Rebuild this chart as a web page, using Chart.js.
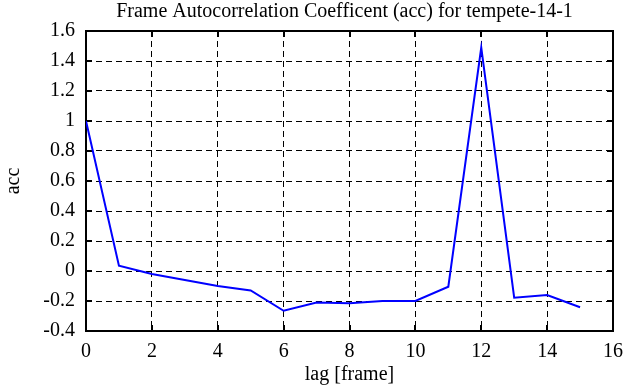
<!DOCTYPE html>
<html><head><meta charset="utf-8">
<script src="https://cdn.jsdelivr.net/npm/chart.js@4/dist/chart.umd.min.js"></script>
<style>html,body{margin:0;padding:0;background:#fff;}</style>
</head><body>
<canvas id="c" width="635" height="387"></canvas>
<script>
const chartTitle = 'Frame Autocorrelation Coefficent (acc) for tempete-14-1';
const xAxisTitle = 'lag [frame]';
const yAxisTitle = 'acc';
const lags = [0, 1, 2, 3, 4, 5, 6, 7, 8, 9, 10, 11, 12, 13, 14, 15];
const acc = [1.0, 0.035, -0.02, -0.06, -0.1, -0.13, -0.265, -0.21, -0.215, -0.2, -0.2, -0.105, 1.49, -0.178, -0.16, -0.242];
const xTicks = [0, 2, 4, 6, 8, 10, 12, 14, 16];
const xTickLabels = ['0', '2', '4', '6', '8', '10', '12', '14', '16'];
const yTicks = [-0.4, -0.2, 0, 0.2, 0.4, 0.6, 0.8, 1, 1.2, 1.4, 1.6];
const yTickLabels = ['-0.4', '-0.2', '0', '0.2', '0.4', '0.6', '0.8', '1', '1.2', '1.4', '1.6'];

const FONT = "'Liberation Serif', 'Times New Roman', serif";
const TICK_LEN = 6;

const framePlugin = {
  id: 'frame',
  afterLayout(chart) {
    const tb = chart.titleBlock;
    if (tb) { tb.left = chart.chartArea.left - 10; tb.right = chart.chartArea.right; }
  },
  beforeDatasetsDraw(chart) {
    const {ctx, chartArea: a, scales} = chart;
    ctx.save();
    ctx.strokeStyle = '#000';
    ctx.lineWidth = 2;
    ctx.beginPath();
    scales.x.ticks.forEach(t => {
      const px = Math.round(scales.x.getPixelForValue(t.value));
      ctx.moveTo(px, a.bottom); ctx.lineTo(px, a.bottom - TICK_LEN);
      ctx.moveTo(px, a.top); ctx.lineTo(px, a.top + TICK_LEN);
    });
    scales.y.ticks.forEach(t => {
      const py = Math.round(scales.y.getPixelForValue(t.value));
      ctx.moveTo(a.left, py); ctx.lineTo(a.left + TICK_LEN, py);
      ctx.moveTo(a.right, py); ctx.lineTo(a.right - TICK_LEN, py);
    });
    ctx.stroke();
    ctx.strokeRect(a.left, a.top, a.right - a.left, a.bottom - a.top);
    ctx.restore();
  }
};

new Chart(document.getElementById('c'), {
  type: 'line',
  data: {
    datasets: [{
      data: lags.map((x, i) => ({x: x, y: acc[i]})),
      borderColor: '#0000ff',
      borderWidth: 2,
      pointRadius: 0,
      tension: 0,
      fill: false
    }]
  },
  options: {
    responsive: false,
    animation: false,
    layout: {padding: {left: 0, right: 22, top: 0, bottom: 0}},
    plugins: {
      legend: {display: false},
      tooltip: {enabled: false},
      title: {
        display: true,
        text: chartTitle,
        color: '#000',
        font: {family: FONT, size: 20, weight: 'normal'},
        padding: {top: 0, bottom: 7}
      }
    },
    scales: {
      x: {
        type: 'linear',
        min: 0, max: 16,
        afterBuildTicks: s => { s.ticks = xTicks.map(v => ({value: v})); },
        afterFit: s => { s.height = 56; s.paddingLeft = 0; s.paddingRight = 0; },
        ticks: {
          color: '#000',
          font: {family: FONT, size: 20},
          padding: 9,
          maxRotation: 0,
          autoSkip: false,
          callback: (v, i) => xTickLabels[i]
        },
        grid: {color: '#000', lineWidth: 1, drawTicks: false},
        border: {display: false, dash: [6, 4]},
        title: {
          display: true, text: xAxisTitle, color: '#000',
          font: {family: FONT, size: 20},
          padding: {top: 0, bottom: 0}
        }
      },
      y: {
        type: 'linear',
        min: -0.4, max: 1.6,
        afterBuildTicks: s => { s.ticks = yTicks.map(v => ({value: v})); },
        afterFit: s => { s.width = 86; s.paddingTop = 0; s.paddingBottom = 0; },
        ticks: {
          color: '#000',
          font: {family: FONT, size: 20},
          padding: 11,
          autoSkip: false,
          callback: (v, i) => yTickLabels[i]
        },
        grid: {color: '#000', lineWidth: 1, drawTicks: false},
        border: {display: false, dash: [6, 4]},
        title: {
          display: true, text: yAxisTitle, color: '#000',
          font: {family: FONT, size: 20},
          padding: {top: 2, bottom: 0}
        }
      }
    }
  },
  plugins: [framePlugin]
});
</script>
</body></html>
